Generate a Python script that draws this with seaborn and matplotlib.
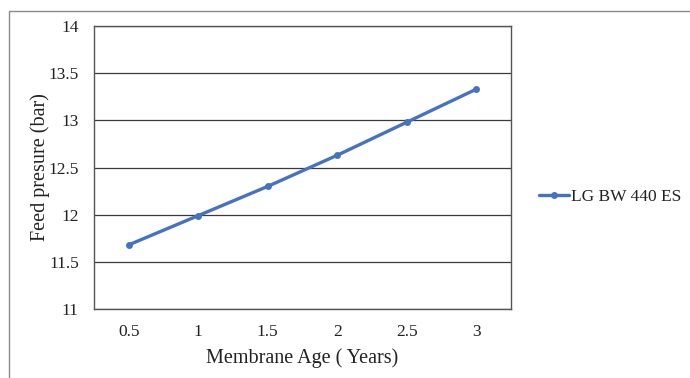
import matplotlib
matplotlib.use("Agg")
import matplotlib.pyplot as plt
import seaborn as sns
import pandas as pd
from matplotlib.patches import Rectangle

ages = ["0.5", "1", "1.5", "2", "2.5", "3"]
pressure = [11.68, 11.99, 12.30, 12.63, 12.98, 13.33]
series_name = "LG BW 440 ES"
y_ticks = [11, 11.5, 12, 12.5, 13, 13.5, 14]
y_tick_labels = ["11", "11.5", "12", "12.5", "13", "13.5", "14"]

sns.set_theme(style="white")
plt.rcParams["font.family"] = ["Liberation Serif", "DejaVu Serif"]

df = pd.DataFrame({"age": ages, "pressure": pressure, "series": series_name})

fig = plt.figure(figsize=(6.9, 3.78), dpi=100)
ax = fig.add_axes([94/690, 1-309/378, (511-94)/690, (309-26)/378])

sns.lineplot(data=df, x="age", y="pressure", hue="series",
             palette=["#4472C4"], marker="o", markersize=5, linewidth=2.4,
             markeredgewidth=0, ax=ax, sort=False)

ax.set_xlim(-0.5, len(ages) - 0.5)
ax.set_ylim(11, 14)
ax.set_yticks(y_ticks)
ax.set_yticklabels(y_tick_labels)
ax.grid(axis="y", color="#3a3a3a", linewidth=0.9)
ax.set_axisbelow(True)
for s in ax.spines.values():
    s.set_color("#555555")
    s.set_linewidth(1.0)
ax.tick_params(axis="both", length=0, labelsize=12.5, colors="#222222")
ax.tick_params(axis="x", pad=11)
ax.tick_params(axis="y", pad=11)
ax.set_xlabel("Membrane Age ( Years)", fontsize=14.5, color="#222222", labelpad=6)
ax.set_ylabel("Feed presure (bar)", fontsize=14.5, color="#222222", labelpad=-1)

leg = ax.legend(loc="center left", bbox_to_anchor=(539/690, 1-197/378),
                bbox_transform=fig.transFigure, frameon=False, fontsize=12.5,
                handlelength=1.75, handletextpad=0.1, borderpad=0,
                borderaxespad=0)
for t in leg.get_texts():
    t.set_color("#222222")

fig.patches.append(Rectangle((9/690, -0.1), 1.2, 1 - 11/378 + 0.1,
                             transform=fig.transFigure, fill=False,
                             edgecolor="#8a8a8a", linewidth=1.0))

fig.savefig("out.png", dpi=100)
